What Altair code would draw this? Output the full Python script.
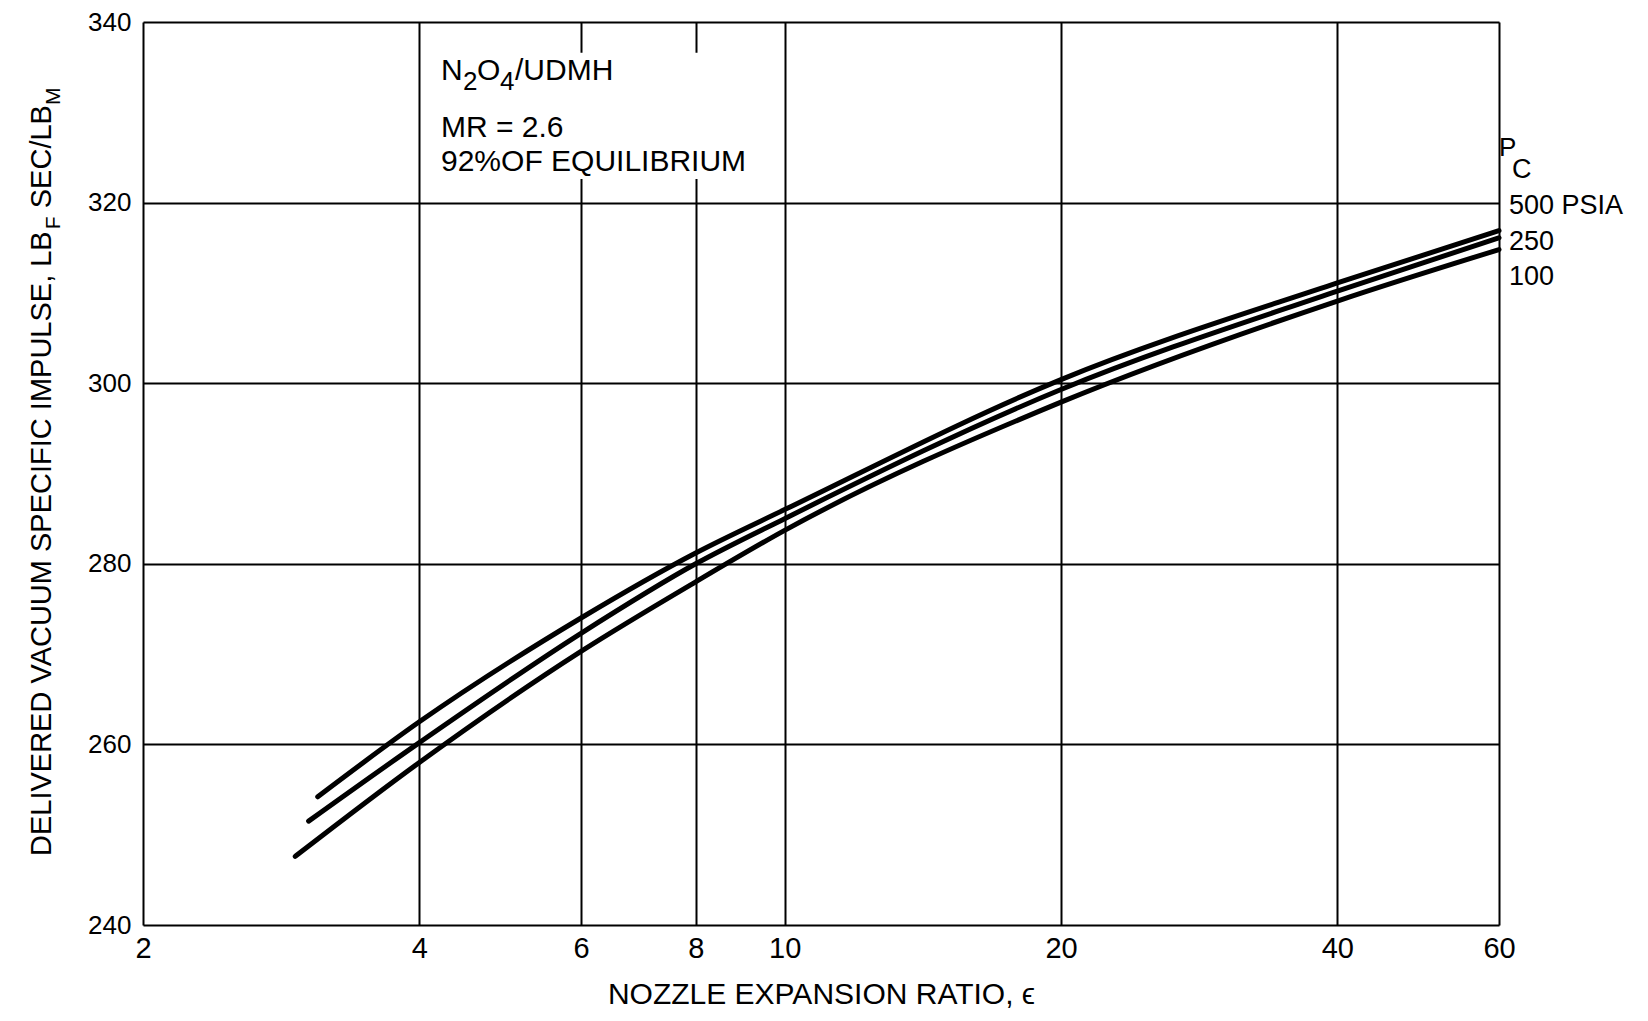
import altair as alt
import pandas as pd

# ---- data ----
x_500 = [3.10, 4, 6, 8, 10, 20, 40, 60]
y_500 = [254.2, 262.5, 274.0, 281.2, 286.0, 300.4, 311.1, 316.9]
x_250 = [3.03, 4, 6, 8, 10, 20, 40, 60]
y_250 = [251.5, 260.2, 272.3, 280.0, 285.0, 299.3, 310.2, 316.1]
x_100 = [2.93, 4, 6, 8, 10, 20, 40, 60]
y_100 = [247.6, 258.0, 270.3, 278.0, 283.7, 297.9, 309.1, 314.8]
series = ["500 PSIA", "250", "100"]

x_ticks = [2, 4, 6, 8, 10, 20, 40, 60]
y_ticks = [240, 260, 280, 300, 320, 340]
x_domain = [2, 60]
y_domain = [240, 340]

# blank area behind the annotation (grid lines are interrupted there)
mask_x = [5.6, 8.7]
mask_y = [322.6, 336.6]

rows = []
for name, xs, ys in zip(series, [x_500, x_250, x_100], [y_500, y_250, y_100]):
    for xv, yv in zip(xs, ys):
        rows.append({"pc": name, "ratio": xv, "isp": yv})
df = pd.DataFrame(rows)

W, H = 1356, 903
FONT = "Liberation Sans"

xscale = alt.Scale(type="log", domain=x_domain, nice=False)
yscale = alt.Scale(domain=y_domain, nice=False, zero=False)

xaxis = alt.Axis(values=x_ticks, grid=True, gridColor="black", gridWidth=2, gridOpacity=1,
                 ticks=False, domain=False, labelFont=FONT, labelFontSize=29, labelColor="black",
                 labelPadding=9, labelFlush=False, labelOverlap=False, format="d",
                 title="NOZZLE EXPANSION RATIO, ϵ", titleFont=FONT, titleFontSize=30,
                 titleFontWeight="normal", titleColor="black", titlePadding=16)
yaxis = alt.Axis(values=y_ticks, grid=True, gridColor="black", gridWidth=2, gridOpacity=1,
                 ticks=False, domain=False, labelFont=FONT, labelFontSize=26, labelColor="black",
                 labelPadding=12, labelFlush=False, labelOverlap=False, format="d", title=None)

lines = alt.Chart(df).mark_line(color="black", strokeWidth=5, interpolate="monotone",
                                strokeCap="round").encode(
    x=alt.X("ratio:Q", scale=xscale, axis=xaxis),
    y=alt.Y("isp:Q", scale=yscale, axis=yaxis),
    detail="pc:N",
)

mask_df = pd.DataFrame({"x1": [mask_x[0]], "x2": [mask_x[1]], "y1": [mask_y[0]], "y2": [mask_y[1]]})
mask = alt.Chart(mask_df).mark_rect(color="white").encode(
    x=alt.X("x1:Q", scale=xscale), x2="x2:Q",
    y=alt.Y("y1:Q", scale=yscale), y2="y2:Q",
)

one = pd.DataFrame({"_": [0]})


def txt(s, x, y, size, angle=0):
    kw = dict(text=s, font=FONT, fontSize=size, color="black", align="left", baseline="alphabetic")
    if angle:
        kw["angle"] = angle
    return alt.Chart(one).mark_text(**kw).encode(x=alt.value(x), y=alt.value(y))


# annotation block
A = 30
S = 26
ann = [
    txt("N", 298, 58, A),
    txt("2", 320, 68, S),
    txt("O", 334, 58, A),
    txt("4", 357, 68, S),
    txt("/UDMH", 372, 58, A),
    txt("MR = 2.6", 298, 115, A),
    txt("92%OF EQUILIBRIUM", 298, 149, A),
]

# right-hand labels
lab = [
    txt("P", 1356, 134, 26),
    txt("C", 1369, 156, 27),
    txt("500 PSIA", 1366, 192, 27),
    txt("250", 1366, 228, 27),
    txt("100", 1366, 263, 27),
]

# y axis title with subscripts (rotated)
T = 29
TS = 21
bx = -92
y0 = 834
w_main = 21.616 * T
w_f = 0.611 * TS
w_sp = 0.278 * T
w_sec = 3.557 * T
ytitle = [
    txt("DELIVERED VACUUM SPECIFIC IMPULSE, LB", bx, y0, T, 270),
    txt("F", bx + 9, y0 - w_main, TS, 270),
    txt("SEC/LB", bx, y0 - w_main - w_f - w_sp, T, 270),
    txt("M", bx + 9, y0 - w_main - w_f - w_sp - w_sec, TS, 270),
]

chart = alt.layer(lines, mask, *ann, *lab, *ytitle).properties(
    width=W, height=H,
    autosize=alt.AutoSizeParams(type="none"),
    padding={"left": 135, "top": 14, "right": 140, "bottom": 84},
).configure_view(stroke="black", strokeWidth=3.5).configure(background="white")

chart.save("out.html", embed_options={"renderer": "svg", "actions": False})
